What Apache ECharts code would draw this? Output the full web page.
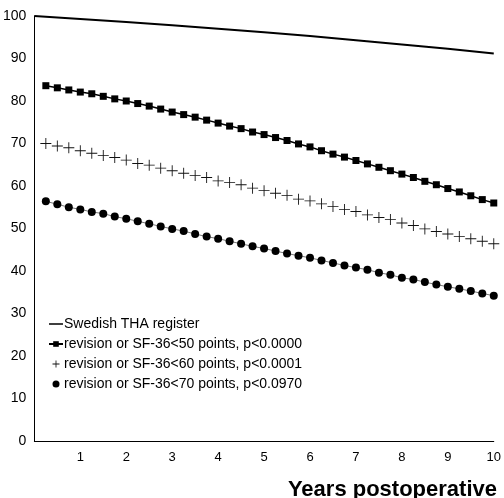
<!DOCTYPE html>
<html>
<head>
<meta charset="UTF-8">
<title>survival</title>
<style>
  html, body { margin: 0; padding: 0; background: #fff; }
  #chart { width: 504px; height: 498px; }
</style>
</head>
<body>
<div id="chart"></div>
<script src="https://cdn.jsdelivr.net/npm/echarts@6/dist/echarts.min.js"></script>
<script>
// years for the register line
var regYears = [0, 1, 2, 3, 4, 5, 6, 7, 8, 9, 10];
var register = [100, 99.3, 98.6, 97.8, 97.0, 96.2, 95.3, 94.3, 93.3, 92.3, 91.2];

// quarter-year points for the three patient groups
var qYears = [0.25, 0.5, 0.75, 1, 1.25, 1.5, 1.75, 2, 2.25, 2.5, 2.75, 3, 3.25, 3.5, 3.75, 4,
  4.25, 4.5, 4.75, 5, 5.25, 5.5, 5.75, 6, 6.25, 6.5, 6.75, 7, 7.25, 7.5, 7.75, 8,
  8.25, 8.5, 8.75, 9, 9.25, 9.5, 9.75, 10];

var sf50 = [83.6, 83.1, 82.6, 82.1, 81.7, 81.1, 80.5, 80.0, 79.4, 78.8,
  78.1, 77.4, 76.8, 76.2, 75.5, 74.8, 74.1, 73.5, 72.7, 72.1,
  71.4, 70.7, 69.9, 69.2, 68.3, 67.5, 66.8, 66.0, 65.2, 64.4,
  63.6, 62.8, 62.0, 61.1, 60.3, 59.4, 58.6, 57.7, 56.8, 56.0];

var sf60 = [70.0, 69.4, 69.0, 68.3, 67.7, 67.2, 66.7, 66.1, 65.3, 64.9,
  64.2, 63.6, 63.0, 62.5, 62.0, 61.2, 60.8, 60.3, 59.5, 58.9,
  58.3, 57.8, 56.9, 56.5, 55.8, 55.2, 54.5, 54.0, 53.2, 52.6,
  52.1, 51.3, 50.7, 49.9, 49.3, 48.7, 48.1, 47.6, 47.0, 46.4];

var sf70 = [56.4, 55.7, 55.0, 54.5, 53.9, 53.5, 52.8, 52.3, 51.7, 51.1,
  50.5, 49.9, 49.4, 48.7, 48.1, 47.6, 47.0, 46.4, 45.8, 45.3,
  44.7, 44.1, 43.6, 43.1, 42.5, 41.9, 41.3, 40.8, 40.3, 39.6,
  39.1, 38.4, 38.0, 37.4, 36.8, 36.3, 35.8, 35.3, 34.7, 34.2];

var names = ['Swedish THA register',
  'revision or SF-36<50 points, p<0.0000',
  'revision or SF-36<60 points, p<0.0001',
  'revision or SF-36<70 points, p<0.0970'];

function pairs(xs, ys) {
  return xs.map(function (x, i) { return [x, ys[i]]; });
}

var plus = 'path://M4.6,0H5.4V4.6H10V5.4H5.4V10H4.6V5.4H0V4.6H4.6Z';
var plusLegend = 'path://M4.4,0H5.6V4.4H10V5.6H5.6V10H4.4V5.6H0V4.4H4.4Z';
// thin bar with invisible corner specks so it keeps its height in the legend box
var dash = 'path://M0,2.7H14V4.3H0Z M0,0H0.01V0.01H0Z M0,7H0.01V7.01H0Z';
var font = 'Liberation Sans, Arial, sans-serif';

var chart = echarts.init(document.getElementById('chart'));
chart.setOption({
  animation: false,
  backgroundColor: '#fff',
  title: {
    text: 'Years postoperative',
    right: 2,
    top: 474,
    textStyle: { fontFamily: font, fontSize: 22, fontWeight: 'bold', color: '#000' }
  },
  grid: { left: 34, right: 10, top: 16, bottom: 57 },
  legend: {
    orient: 'vertical',
    left: 43,
    top: 312,
    itemGap: 6,
    itemWidth: 14,
    itemHeight: 7,
    textStyle: { fontFamily: font, fontSize: 14, color: '#000', padding: [0, 0, 0, -4] },
    data: [
      { name: names[0], icon: dash },
      { name: names[1] },
      { name: names[2], icon: plusLegend },
      { name: names[3], icon: 'circle' }
    ]
  },
  xAxis: {
    type: 'value',
    min: 0,
    max: 10,
    interval: 1,
    splitLine: { show: false },
    axisTick: { show: false },
    axisLine: { lineStyle: { color: '#000', width: 1 } },
    axisLabel: {
      margin: 10,
      fontFamily: font,
      fontSize: 13,
      color: '#000',
      formatter: function (v) { return v === 0 ? '' : v; }
    }
  },
  yAxis: {
    type: 'value',
    min: 0,
    max: 100,
    interval: 10,
    splitLine: { show: false },
    axisTick: { show: false },
    axisLine: { show: true, lineStyle: { color: '#000', width: 1 } },
    axisLabel: { margin: 8, fontFamily: font, fontSize: 14, color: '#000' }
  },
  series: [
    {
      name: names[0],
      type: 'line',
      data: pairs(regYears, register),
      showSymbol: false,
      symbol: 'none',
      lineStyle: { color: '#000', width: 2 },
      itemStyle: { color: '#000' }
    },
    {
      name: names[1],
      type: 'line',
      data: pairs(qYears, sf50),
      symbol: 'rect',
      symbolSize: 7,
      lineStyle: { color: '#000', width: 1.5 },
      itemStyle: { color: '#000' }
    },
    {
      name: names[2],
      type: 'line',
      data: pairs(qYears, sf60),
      symbol: plus,
      symbolSize: 11,
      lineStyle: { width: 0, opacity: 0 },
      itemStyle: { color: '#111' }
    },
    {
      name: names[3],
      type: 'line',
      data: pairs(qYears, sf70),
      symbol: 'circle',
      symbolSize: 8,
      lineStyle: { color: '#777', width: 1 },
      itemStyle: { color: '#000' }
    }
  ]
});
</script>
</body>
</html>
